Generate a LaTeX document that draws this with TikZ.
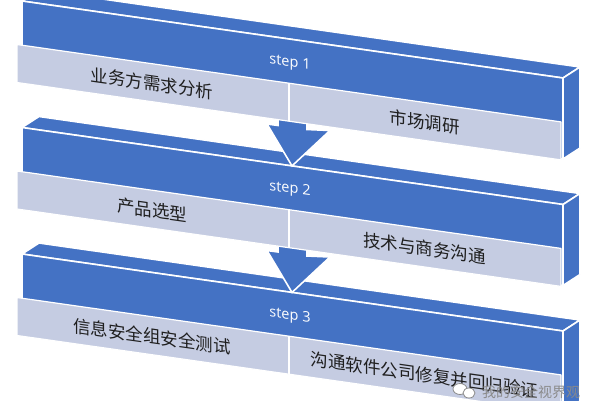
\documentclass[tikz,border=0pt]{standalone}
\usepackage{fontspec}
\setmainfont{Open Sans}
\newfontfamily\cjk{Noto Sans CJK SC}
\definecolor{bblue}{HTML}{4472C4}
\definecolor{panel}{HTML}{C5CCE2}
\definecolor{txt}{HTML}{1F1F1F}
\definecolor{wmgray}{HTML}{8A8A8A}
\tikzset{
  face/.style={fill=bblue, draw=white, line width=1.6pt, line join=round},
  panelbox/.style={fill=panel, draw=white, line width=1.2pt, line join=round},
  divider/.style={draw=white, line width=1.4pt},
  steplbl/.style={text=white, font=\fontsize{14.5}{16}\selectfont, transform shape, inner sep=0pt},
  celltxt/.style={text=txt, font=\cjk\fontsize{17.5}{19}\selectfont, transform shape, inner sep=0pt},
  arrowbox/.style={fill=bblue, draw=white, line width=1.6pt, line join=miter},
  wmtext/.style={text=wmgray, font=\cjk\fontsize{14}{16}\selectfont, inner sep=0pt},
  wmicon/.style={fill=white, draw=wmgray, line width=0.8pt},
}
\newcommand\stepblock[5]{% #1 name, #2 y0, #3 label, #4 left text, #5 right text
  \begin{scope}[shift={(0,#2)}]
    \draw[face] (22,0) -- (563,77) -- (580,66) -- (39,-11) -- cycle;
    \draw[face] (563,77) -- (580,66) -- (580,147) -- (563,158) -- cycle;
    \draw[face] (22,0) -- (563,77) -- (563,158) -- (22,81) -- cycle;
    \draw[panelbox] (17,43.5) -- (561,120.9) -- (561,158.9) -- (17,81.5) -- cycle;
    \draw[divider] (289,82.2) -- (289,120.2);
    \begin{scope}[shift={(290,62)}, yslant=-0.1423]
      \node[steplbl] (#1) at (0,0) {#3};
    \end{scope}
    \begin{scope}[shift={(152,82.5)}, yslant=-0.1423]
      \node[celltxt] (#1l) at (0,0) {#4};
    \end{scope}
    \begin{scope}[shift={(424.5,121)}, yslant=-0.1423]
      \node[celltxt] (#1r) at (0,0) {#5};
    \end{scope}
  \end{scope}}
\newcommand\blockarrow[2]{% #1 name, #2 y0 of upper step
  \begin{scope}[shift={(0,#2)}]
    \coordinate (#1) at (292,164.9);
    \draw[arrowbox] (278,110) -- (278,124.5) -- (267,123) -- (#1)
      -- (330,129.5) -- (307,128.5) -- (307,110) -- cycle;
  \end{scope}}
\begin{document}
\begin{tikzpicture}[x=1pt,y=-1pt]
  \useasboundingbox (0,0) rectangle (600,400);
  \clip (0,0) rectangle (600,400);
  \fill[white] (0,0) rectangle (600,400);
  \stepblock{s3}{254}{step 3}{信息安全组安全测试}{沟通软件公司修复并回归验证}
  \blockarrow{a2}{127.5}
  \stepblock{s2}{127.5}{step 2}{产品选型}{技术与商务沟通}
  \blockarrow{a1}{1}
  \stepblock{s1}{1}{step 1}{业务方需求分析}{市场调研}
  % watermark
  \draw[wmicon] (460,389) ellipse (7pt and 5.5pt);
  \draw[wmicon] (469,393) ellipse (6pt and 5pt);
  \node[wmtext] (wm) at (531,392) {我的安全视界观};
\end{tikzpicture}
\end{document}
